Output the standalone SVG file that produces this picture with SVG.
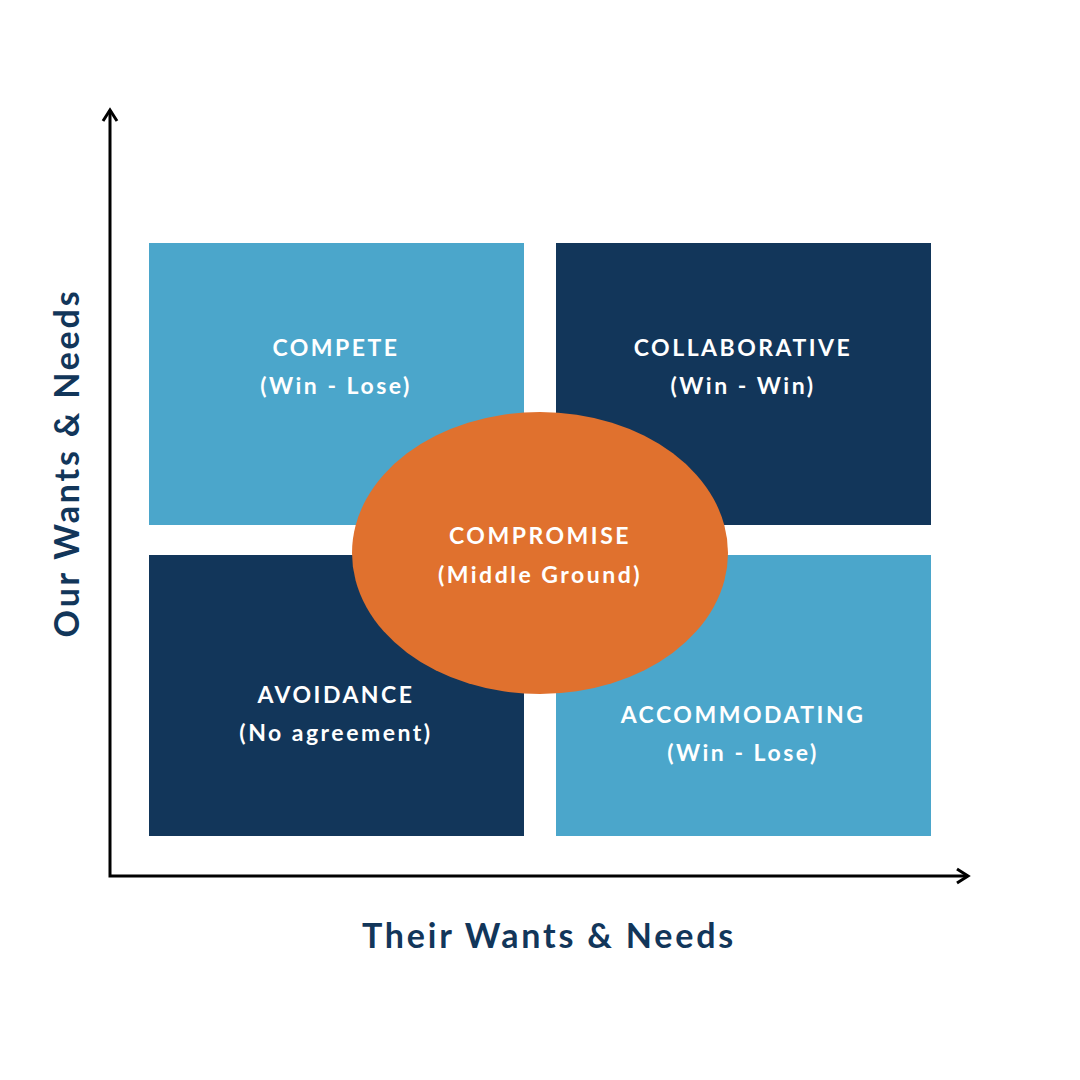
<svg xmlns="http://www.w3.org/2000/svg" width="1080" height="1080" viewBox="0 0 1080 1080">
<style>
.light{fill:#4BA6CB}.dark{fill:#12365A}
.t{font-family:Lato,"Open Sans",sans-serif;font-weight:bold;font-size:23px;fill:#fff;text-anchor:middle;letter-spacing:2.5px}
.ax{font-family:Lato,"Open Sans",sans-serif;font-weight:bold;font-size:34px;fill:#12365A;text-anchor:middle;letter-spacing:2.8px}
.axis{stroke:#000;stroke-width:3;fill:none}
</style>
<rect width="1080" height="1080" fill="#fff"/>
<g id="connectors">
<path class="axis" d="M110,110 V876 H968"/>
<path class="axis" d="M103,121 L110,110 L117,121"/>
<path class="axis" d="M957,869 L968,876 L957,883"/>
</g>
<g id="compete"><rect class="light" x="149" y="243" width="375" height="282"/>
<text class="t" x="336" y="356">COMPETE</text><text class="t" x="336" y="394">(Win - Lose)</text></g>
<g id="collaborative"><rect class="dark" x="556" y="243" width="375" height="282"/>
<text class="t" x="743" y="356">COLLABORATIVE</text><text class="t" x="743" y="394">(Win - Win)</text></g>
<g id="avoidance"><rect class="dark" x="149" y="555" width="375" height="281"/>
<text class="t" x="336" y="703">AVOIDANCE</text><text class="t" x="336" y="741">(No agreement)</text></g>
<g id="accommodating"><rect class="light" x="556" y="555" width="375" height="281"/>
<text class="t" x="743" y="723">ACCOMMODATING</text><text class="t" x="743" y="761">(Win - Lose)</text></g>
<g id="compromise"><ellipse cx="540" cy="553" rx="188" ry="141" fill="#E0712E"/>
<text class="t" x="540" y="544">COMPROMISE</text><text class="t" x="540" y="583">(Middle Ground)</text></g>
<g id="labels">
<text class="ax" x="549" y="948">Their Wants &amp; Needs</text>
<text class="ax" transform="translate(79,463) rotate(-90)">Our Wants &amp; Needs</text>
</g>
</svg>
